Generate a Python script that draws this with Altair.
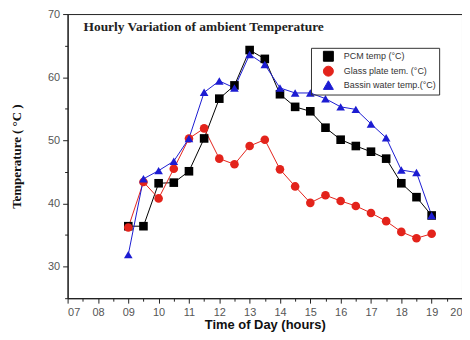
import altair as alt
import pandas as pd

hours = [9, 9.5, 10, 10.5, 11, 11.5, 12, 12.5, 13, 13.5, 14, 14.5, 15, 15.5, 16, 16.5, 17, 17.5, 18, 18.5, 19]
pcm = [36.4, 36.4, 43.2, 43.3, 45.1, 50.3, 56.6, 58.7, 64.3, 62.9, 57.3, 55.3, 54.6, 52.0, 50.1, 49.1, 48.2, 47.1, 43.2, 41.0, 38.1]
glass = [36.2, 43.4, 40.8, 45.5, 50.3, 51.9, 47.1, 46.2, 49.1, 50.1, 45.4, 42.7, 40.1, 41.3, 40.4, 39.6, 38.5, 37.2, 35.5, 34.5, 35.2]
bassin = [31.9, 43.9, 45.2, 46.7, 50.3, 57.6, 59.4, 58.3, 63.6, 62.0, 58.3, 57.5, 57.5, 56.6, 55.3, 54.9, 52.6, 50.4, 45.3, 44.9, 38.1]

series = ["PCM temp (°C)", "Glass plate tem. (°C)", "Bassin water temp.(°C)"]
colors = ["#000000", "#e3231b", "#1c1cd2"]
shapes = ["square", "circle", "triangle-up"]
x_ticks = [7 + 0.5 * i for i in range(27)]
y_ticks = [25, 30, 35, 40, 45, 50, 55, 60, 65, 70]
chart_title = "Hourly Variation of ambient Temperature"

rows = []
for name, vals in zip(series, [pcm, glass, bassin]):
    for h, v in zip(hours, vals):
        rows.append({"hour": h, "temp": v, "series": name, "marker": name})
df = pd.DataFrame(rows)

legend_paths = [
    "M-2.3,0H2.3M-0.7,-0.7H0.7V0.7H-0.7Z",
    "M-2.3,0H2.3M-0.75,0A0.75,0.75 0 1,0 0.75,0A0.75,0.75 0 1,0 -0.75,0Z",
    "M-2.3,0H2.3M0,-0.85L0.85,0.6L-0.85,0.6Z",
]
sym_expr = ("datum.value == '%s' ? '%s' : datum.value == '%s' ? '%s' : '%s'"
            % (series[0], legend_paths[0], series[1], legend_paths[1], legend_paths[2]))

x_enc = alt.X(
    "hour:Q",
    scale=alt.Scale(domain=[7, 20], nice=False),
    axis=alt.Axis(
        values=x_ticks, format="02d",
        labelExpr="datum.value % 1 == 0 ? datum.label : ''",
        tickSize={"expr": "datum.value % 1 == 0 ? 5 : 3"},
        title="Time of Day (hours)", grid=False,
        labelPadding=3, titlePadding=2,
        titleFont="Liberation Sans", titleFontSize=13, titleFontWeight="bold",
        titleColor="#111",
    ),
)
y_enc = alt.Y(
    "temp:Q",
    scale=alt.Scale(domain=[25, 70], nice=False, zero=False),
    axis=alt.Axis(
        values=y_ticks,
        labelExpr="datum.value % 10 == 0 ? datum.label : ''",
        tickSize={"expr": "datum.value % 10 == 0 ? 5 : 3"},
        title="Temperature ( °C )", grid=False,
        labelPadding=3, titlePadding=24,
        titleFont="Liberation Serif", titleFontSize=13, titleFontWeight="bold",
        titleColor="#111",
    ),
)

legend = alt.Legend(
    title=None, orient="none", legendX=245, legendY=34,
    symbolType={"expr": sym_expr}, symbolSize=100,
    symbolStrokeWidth=1, symbolOffset=9, labelOffset=10,
    symbolFillColor={"expr": "scale('color', datum.value)"},
    symbolStrokeColor={"expr": "scale('color', datum.value)"},
    labelFont="Liberation Sans", labelFontSize=9, labelColor="#333",
    strokeColor="#333", padding=3, rowPadding=0,
)

lines = alt.Chart(df).mark_line(strokeWidth=1).encode(
    x=x_enc, y=y_enc,
    color=alt.Color("series:N", scale=alt.Scale(domain=series, range=colors), legend=legend),
    detail="series:N",
)

points = alt.Chart(df).mark_point(filled=True, size=75, opacity=1).encode(
    x=x_enc, y=y_enc,
    fill=alt.Fill("marker:N", scale=alt.Scale(domain=series, range=colors), legend=None),
    shape=alt.Shape("marker:N", scale=alt.Scale(domain=series, range=shapes), legend=None),
)

title_df = pd.DataFrame({"t": [chart_title]})
title = alt.Chart(title_df).mark_text(
    align="left", baseline="middle", font="Liberation Serif",
    fontSize=13.5, fontWeight="bold", color="#222",
).encode(x=alt.value(16), y=alt.value(13), text="t:N")

chart = alt.layer(lines, points, title).properties(
    width=397, height=286,
    autosize=alt.AutoSizeParams(type="none"),
    padding={"left": 60, "top": 5, "right": 0, "bottom": 40},
).configure_view(stroke="#222", strokeWidth=1).configure_axis(
    domainColor="#222", domainWidth=1.2, tickColor="#222",
    labelFont="Liberation Sans", labelFontSize=11, labelColor="#555",
)

chart.save("out.html", embed_options={"renderer": "svg", "actions": False})
